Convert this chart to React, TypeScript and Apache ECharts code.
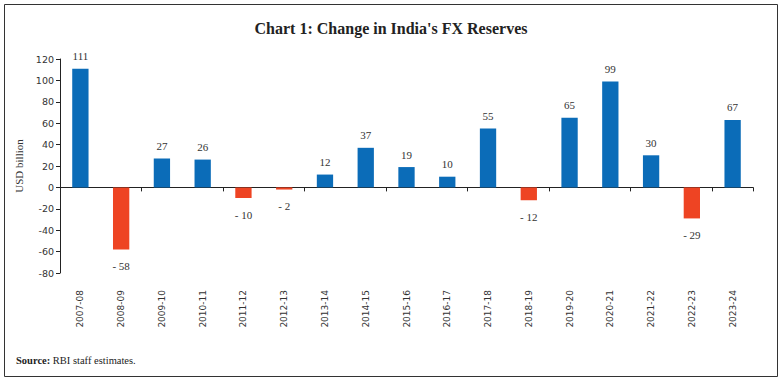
import React, { useEffect, useRef } from "react";
import * as echarts from "echarts";

const categories = [
  "2007-08", "2008-09", "2009-10", "2010-11", "2011-12", "2012-13", "2013-14", "2014-15",
  "2015-16", "2016-17", "2017-18", "2018-19", "2019-20", "2020-21", "2021-22", "2022-23", "2023-24",
];
// bar heights as drawn
const barValues = [111, -58, 27, 26, -10, -2, 12, 37, 19, 10, 55, -12, 65, 99, 30, -29, 63];
// data labels as printed
const labelValues = [111, -58, 27, 26, -10, -2, 12, 37, 19, 10, 55, -12, 65, 99, 30, -29, 67];
const yTicks = { min: -80, max: 120, interval: 20 };

const BLUE = "#0B6CB8";
const RED = "#EE4423";
const SERIF = "'Liberation Serif', 'DejaVu Serif', serif";
const SANS = "'DejaVu Sans', 'Liberation Sans', sans-serif";

export default function App() {
  const ref = useRef<HTMLDivElement>(null);
  useEffect(() => {
    if (!ref.current) return;
    const chart = echarts.init(ref.current, undefined, { renderer: "svg" });
    const data = barValues.map((v, i) => {
      const lv = labelValues[i];
      const neg = v < 0;
      return {
        value: v,
        itemStyle: { color: neg ? RED : BLUE },
        label: {
          show: true,
          position: neg ? "bottom" : "top",
          distance: neg ? 11 : 7,
          formatter: lv < 0 ? "- " + Math.abs(lv) : String(lv),
        },
      };
    });
    chart.setOption({
      animation: false,
      title: {
        text: "Chart 1: Change in India's FX Reserves",
        left: "center",
        top: 15,
        textStyle: { fontFamily: SERIF, fontSize: 16, fontWeight: 600, color: "#222" },
      },
      graphic: [
        {
          type: "rect",
          shape: { x: 4.5, y: 4.5, width: 773, height: 372 },
          style: { fill: "none", stroke: "#333", lineWidth: 1 },
          silent: true,
        },
        {
          type: "text",
          left: 16,
          top: 355,
          style: {
            text: "{b|Source:} RBI staff estimates.",
            rich: {
              b: { fontFamily: SERIF, fontSize: 10.5, fontWeight: "bold", fill: "#222" },
            },
            fontFamily: SERIF,
            fontSize: 10.5,
            fill: "#222",
          },
        },
      ],
      grid: { left: 60, right: 29, top: 59, bottom: 109, containLabel: false },
      xAxis: [
        {
          type: "category",
          data: categories,
          axisLine: { show: true, onZero: true, lineStyle: { color: "#222", width: 1 } },
          axisTick: { show: true, alignWithLabel: false, length: 4, lineStyle: { color: "#222" } },
          axisLabel: { show: false },
        },
        {
          type: "category",
          data: categories,
          position: "bottom",
          axisLine: { show: false, onZero: false },
          axisTick: { show: false },
          axisLabel: {
            show: true,
            rotate: 90,
            margin: 17,
            interval: 0,
            fontFamily: SANS,
            fontSize: 9,
            color: "#333",
          },
        },
      ],
      yAxis: {
        type: "value",
        min: yTicks.min,
        max: yTicks.max,
        interval: yTicks.interval,
        name: "USD billion",
        nameLocation: "middle",
        nameGap: 35,
        nameRotate: 90,
        nameTextStyle: { fontFamily: SERIF, fontSize: 11, color: "#333" },
        axisLine: { show: true, lineStyle: { color: "#222", width: 1 } },
        axisTick: { show: true, length: 4, lineStyle: { color: "#222" } },
        splitLine: { show: false },
        axisLabel: { fontFamily: SANS, fontSize: 9.5, color: "#333", margin: 6 },
      },
      series: [
        {
          type: "bar",
          xAxisIndex: 0,
          data,
          barWidth: "40%",
          label: { fontFamily: SERIF, fontSize: 11, color: "#333" },
        },
      ],
    });
    return () => chart.dispose();
  }, []);
  return <div ref={ref} style={{ width: 782, height: 382, position: "absolute", left: 0, top: 0 }} />;
}
